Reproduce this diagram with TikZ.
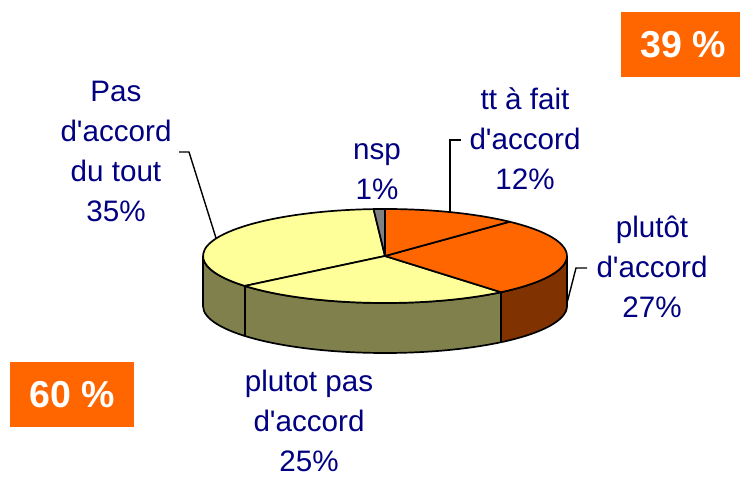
\documentclass[tikz,border=0pt]{standalone}
\usepackage{fontspec}
\setmainfont{Liberation Sans}
\definecolor{orng}{HTML}{FF6600}
\definecolor{brwn}{HTML}{803300}
\definecolor{ylw}{HTML}{FFFF99}
\definecolor{olv}{HTML}{80804D}
\definecolor{gry}{HTML}{808080}
\definecolor{navy}{HTML}{000080}
\newcommand{\apo}{\textquotesingle}
\begin{document}
\begin{tikzpicture}[x=1pt,y=1pt,
  lbl/.style={text=navy, align=center, font=\fontsize{29.6}{40}\selectfont, inner sep=0pt, anchor=base},
  badge/.style={fill=orng, text=white, font=\fontsize{37.5}{40}\selectfont\bfseries, minimum width=124pt, minimum height=65pt, inner sep=0pt},
  edge/.style={draw=black, line width=1.7pt, line join=round},
  leader/.style={draw=black, line width=1.4pt},
  ell/.style={x radius=182, y radius=47}]
\useasboundingbox (0,0) rectangle (740,479);
\coordinate (c) at (385,223);
% sides
\filldraw[edge, fill=olv] (c) ++(-180:182 and 47) -- ++(0,-50)
  arc[ell, start angle=-180, end angle=-50.4] -- ++(0,50)
  arc[ell, start angle=-50.4, end angle=-180] -- cycle;
\filldraw[edge, fill=brwn] (c) ++(-50.4:182 and 47) -- ++(0,-50)
  arc[ell, start angle=-50.4, end angle=0] -- ++(0,50)
  arc[ell, start angle=0, end angle=-50.4] -- cycle;
\draw[edge] (c) ++(-140.4:182 and 47) -- ++(0,-50);
% top
\filldraw[edge, fill=ylw] (c) -- ++(93.6:182 and 47)
  arc[ell, start angle=93.6, end angle=219.6] -- cycle;
\filldraw[edge, fill=ylw] (c) -- ++(-140.4:182 and 47)
  arc[ell, start angle=-140.4, end angle=-50.4] -- cycle;
\filldraw[edge, fill=orng] (c) -- ++(-50.4:182 and 47)
  arc[ell, start angle=-50.4, end angle=46.8] -- cycle;
\filldraw[edge, fill=orng] (c) -- ++(46.8:182 and 47)
  arc[ell, start angle=46.8, end angle=90] -- cycle;
\filldraw[edge, fill=gry] (c) -- ++(90:182 and 47)
  arc[ell, start angle=90, end angle=93.6] -- cycle;
% labels (anchor = baseline of last line)
\node[lbl] (pas) at (116,257) {Pas\\d\apo accord\\du tout\\35\%};
\node[lbl] (tt) at (525,289) {tt à fait\\d\apo accord\\12\%};
\node[lbl] (plutot) at (652,161) {plutôt\\d\apo accord\\27\%};
\node[lbl] (ppas) at (309,7) {plutot pas\\d\apo accord\\25\%};
\node[lbl] (nsp) at (377,279) {nsp\\1\%};
% leaders
\coordinate (pasA) at (179,327); \coordinate (pasB) at (189,327); \coordinate (pasC) at (216,241);
\coordinate (ttA) at (461,339); \coordinate (ttB) at (450,339); \coordinate (ttC) at (450,267);
\coordinate (plA) at (587,211); \coordinate (plB) at (576,211); \coordinate (plC) at (567,176);
\draw[leader] (pasA) -- (pasB) -- (pasC);
\draw[leader] (ttA) -- (ttB) -- (ttC);
\draw[leader] (plA) -- (plB) -- (plC);
% badges
\node[badge] (b60) at (72,84.5) {60 \%};
\node[badge] (b39) at (683,434.5) {39 \%};
\end{tikzpicture}
\end{document}
